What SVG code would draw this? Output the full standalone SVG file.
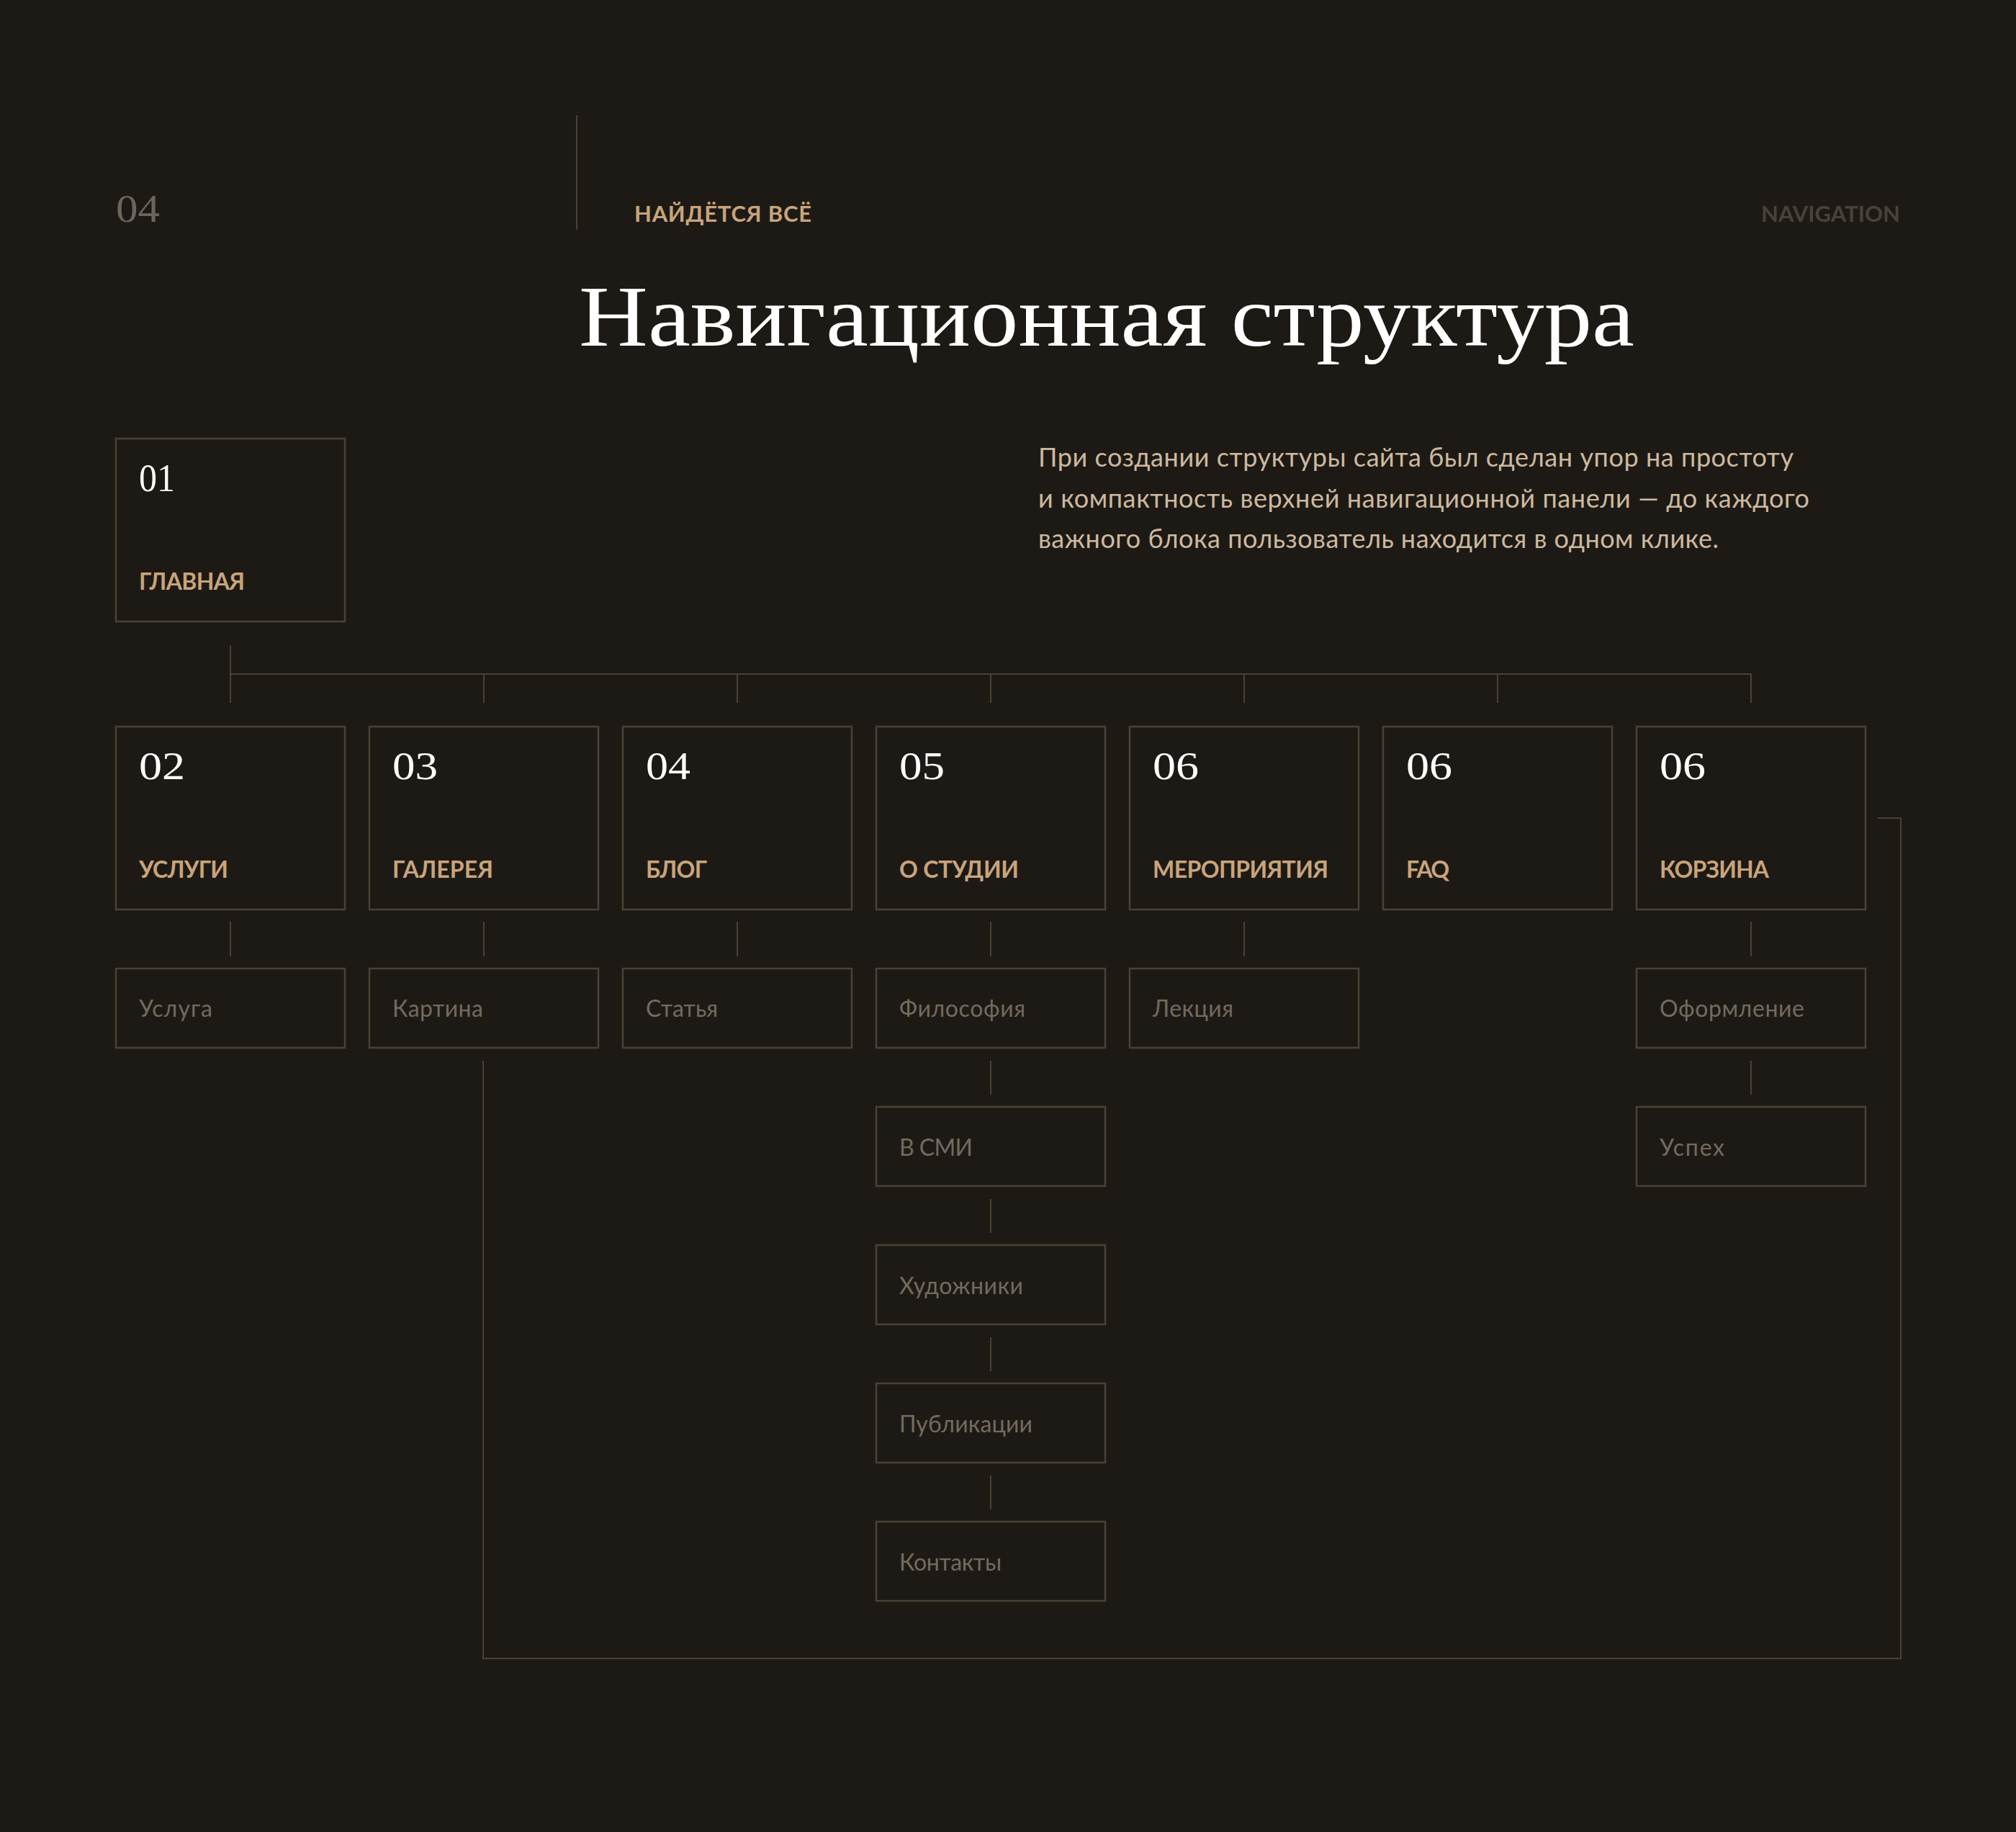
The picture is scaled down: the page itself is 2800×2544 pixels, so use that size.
<svg xmlns="http://www.w3.org/2000/svg" width="2800" height="2544" viewBox="0 0 2800 2544">
<style>
.bg{fill:#1d1a15}
.box{fill:#1d1a15;stroke:#4b4134;stroke-width:2.5}
.sub{fill:#1d1a15;stroke:#4b4134;stroke-width:2.5}
.ln{fill:none;stroke:#4b4134;stroke-width:2}
.num{font-family:"Liberation Serif","DejaVu Serif",serif;font-size:54px;fill:#ffffff}
.lbl{font-family:Lato,"Open Sans","Liberation Sans",sans-serif;font-size:32px;font-weight:700;fill:#c9a47c}
.sl{font-family:Lato,"Open Sans","Liberation Sans",sans-serif;font-size:32px;font-weight:400;fill:#746a5e}
.para{font-family:Lato,"Open Sans","Liberation Sans",sans-serif;font-size:36px;fill:#cdb9a0}
</style>
<rect class="bg" x="0" y="0" width="2800" height="2544"/>

<g id="header">
  <text x="161" y="308" font-family="Liberation Serif,serif" font-size="54" fill="#6e6559" textLength="61" lengthAdjust="spacingAndGlyphs">04</text>
  <line x1="801" y1="160" x2="801" y2="319" stroke="#4b4134" stroke-width="2"/>
  <text x="881" y="308" font-family="Lato,'Open Sans',sans-serif" font-size="31" font-weight="700" fill="#c9a47c" textLength="246">НАЙДЁТСЯ ВСЁ</text>
  <text x="2446" y="308" font-family="Lato,'Open Sans',sans-serif" font-size="31" font-weight="700" fill="#4a4238" textLength="193">NAVIGATION</text>
  <text x="804" y="480" font-family="Liberation Serif,'DejaVu Serif',serif" font-size="120" fill="#ffffff" textLength="1466" lengthAdjust="spacingAndGlyphs">Навигационная структура</text>
  <text class="para" x="1442" y="648" textLength="1049">При создании структуры сайта был сделан упор на простоту</text>
  <text class="para" x="1442" y="705" textLength="1071">и компактность верхней навигационной панели — до каждого</text>
  <text class="para" x="1442" y="761" textLength="945">важного блока пользователь находится в одном клике.</text>
</g>

<g id="connectors">
  <path class="ln" d="M320,896 V976 M320,936 H2432 M672,936 V976 M1024,936 V976 M1376,936 V976 M1728,936 V976 M2080,936 V976 M2432,936 V976"/>
  <path class="ln" d="M320,1280 V1328 M672,1280 V1328 M1024,1280 V1328 M1376,1280 V1328 M1728,1280 V1328 M2432,1280 V1328"/>
  <path class="ln" d="M1376,1473 V1520 M1376,1665 V1712 M1376,1857 V1904 M1376,2049 V2096 M2432,1473 V1520"/>
  <path class="ln" d="M2608,1136 H2640 V2303 H671 V1473"/>
</g>

<g id="n01"><rect class="box" x="161" y="609" width="318" height="254"/><text class="num" x="193" y="682" textLength="50" lengthAdjust="spacingAndGlyphs">01</text><text class="lbl" x="193" y="819" textLength="147">ГЛАВНАЯ</text></g>
<g id="n02"><rect class="box" x="161" y="1009" width="318" height="254"/><text class="num" x="193" y="1082" textLength="64" lengthAdjust="spacingAndGlyphs">02</text><text class="lbl" x="193" y="1219" textLength="124">УСЛУГИ</text></g>
<g id="n03"><rect class="box" x="513" y="1009" width="318" height="254"/><text class="num" x="545" y="1082" textLength="63" lengthAdjust="spacingAndGlyphs">03</text><text class="lbl" x="545" y="1219" textLength="140">ГАЛЕРЕЯ</text></g>
<g id="n04"><rect class="box" x="865" y="1009" width="318" height="254"/><text class="num" x="897" y="1082" textLength="62" lengthAdjust="spacingAndGlyphs">04</text><text class="lbl" x="897" y="1219" textLength="85">БЛОГ</text></g>
<g id="n05"><rect class="box" x="1217" y="1009" width="318" height="254"/><text class="num" x="1249" y="1082" textLength="63" lengthAdjust="spacingAndGlyphs">05</text><text class="lbl" x="1249" y="1219" textLength="166">О СТУДИИ</text></g>
<g id="n06a"><rect class="box" x="1569" y="1009" width="318" height="254"/><text class="num" x="1601" y="1082" textLength="64" lengthAdjust="spacingAndGlyphs">06</text><text class="lbl" x="1601" y="1219" textLength="244">МЕРОПРИЯТИЯ</text></g>
<g id="n06b"><rect class="box" x="1921" y="1009" width="318" height="254"/><text class="num" x="1953" y="1082" textLength="64" lengthAdjust="spacingAndGlyphs">06</text><text class="lbl" x="1953" y="1219" textLength="60">FAQ</text></g>
<g id="n06c"><rect class="box" x="2273" y="1009" width="318" height="254"/><text class="num" x="2305" y="1082" textLength="64" lengthAdjust="spacingAndGlyphs">06</text><text class="lbl" x="2305" y="1219" textLength="152">КОРЗИНА</text></g>

<g id="s-usluga"><rect class="sub" x="161" y="1345" width="318" height="110"/><text class="sl" x="193" y="1412" textLength="102">Услуга</text></g>
<g id="s-kartina"><rect class="sub" x="513" y="1345" width="318" height="110"/><text class="sl" x="545" y="1412" textLength="126">Картина</text></g>
<g id="s-statya"><rect class="sub" x="865" y="1345" width="318" height="110"/><text class="sl" x="897" y="1412" textLength="100">Статья</text></g>
<g id="s-filosofiya"><rect class="sub" x="1217" y="1345" width="318" height="110"/><text class="sl" x="1249" y="1412" textLength="175">Философия</text></g>
<g id="s-lektsiya"><rect class="sub" x="1569" y="1345" width="318" height="110"/><text class="sl" x="1601" y="1412" textLength="112">Лекция</text></g>
<g id="s-oformlenie"><rect class="sub" x="2273" y="1345" width="318" height="110"/><text class="sl" x="2305" y="1412" textLength="201">Оформление</text></g>
<g id="s-vsmi"><rect class="sub" x="1217" y="1537" width="318" height="110"/><text class="sl" x="1249" y="1605" textLength="102">В СМИ</text></g>
<g id="s-uspekh"><rect class="sub" x="2273" y="1537" width="318" height="110"/><text class="sl" x="2305" y="1605" textLength="90">Успех</text></g>
<g id="s-khudozhniki"><rect class="sub" x="1217" y="1729" width="318" height="110"/><text class="sl" x="1249" y="1797" textLength="172">Художники</text></g>
<g id="s-publikatsii"><rect class="sub" x="1217" y="1921" width="318" height="110"/><text class="sl" x="1249" y="1989" textLength="185">Публикации</text></g>
<g id="s-kontakty"><rect class="sub" x="1217" y="2113" width="318" height="110"/><text class="sl" x="1249" y="2181" textLength="142">Контакты</text></g>
</svg>
